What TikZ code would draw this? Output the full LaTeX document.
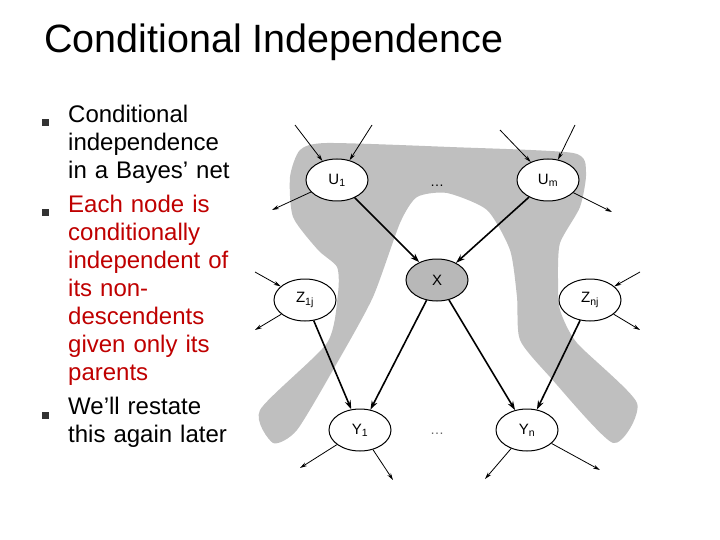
\documentclass[tikz,border=0pt]{standalone}
\usepackage{fontspec}
\setmainfont{Liberation Sans}
\usetikzlibrary{shapes.geometric,arrows.meta}
\begin{document}
\begin{tikzpicture}[x=1pt,y=-1pt,
  rv/.style={ellipse,draw,line width=1pt,fill=white,minimum width=62pt,minimum height=42pt,inner sep=0pt,font=\fontsize{15}{16}\selectfont},
  edge/.style={-{Stealth[length=9pt,width=6pt]},line width=1.6pt},
  thin/.style={-{Stealth[length=7pt,width=4pt]},line width=0.8pt},
  txt/.style={anchor=north west,align=left,inner sep=0pt,font=\fontsize{24}{28}\selectfont,text width=185pt},
  bul/.style={fill=black!80,minimum size=7pt,inner sep=0pt}]
\useasboundingbox (0,0) rectangle (720,540);
\node[anchor=west,inner sep=0pt,font=\fontsize{39.5}{42}\selectfont] (title) at (44,42) {Conditional Independence};
\node[txt] (t1) at (68,105) {Conditional\\independence\\in a Bayes' net};
\node[txt,text=red!75!black] (t2) at (68,195) {Each node is\\conditionally\\independent of\\its non-\\descendents\\given only its\\parents};
\node[txt] (t3) at (68,397) {We'll restate\\this again later};
\node[bul] (b1) at (45,123) {};
\node[bul] (b2) at (45,213) {};
\node[bul] (b3) at (45,415) {};
\fill[black!25] plot[smooth cycle,tension=0.4] coordinates {
 (327,143) (450,147) (573,153) (586,172) (580,207) (560,243) (558,280) (560,310) (577,343) (637,403) (613,443)
 (550,377) (520,340) (517,297) (510,250) (487,210) (447,193) (417,197)
 (400,223) (373,297) (337,363) (297,430) (273,443)
 (260,410) (327,343) (338,293) (337,267) (318,250) (293,217) (290,177) (300,150)};
\node[rv] (u1) at (337,180) {U\textsubscript{1}};
\node[rv] (um) at (548,180) {U\textsubscript{m}};
\node[rv,fill=black!28] (x) at (437,280) {X};
\node[rv] (z1) at (305,300) {Z\textsubscript{1j}};
\node[rv] (zn) at (590,300) {Z\textsubscript{nj}};
\node[rv] (y1) at (360,430) {Y\textsubscript{1}};
\node[rv] (yn) at (527,430) {Y\textsubscript{n}};
\node[font=\fontsize{14}{14}\selectfont] (d1) at (437,186) {\dots};
\node[font=\fontsize{14}{14}\selectfont,text=black!60] (d2) at (437,434) {\dots};
\draw[edge] (u1) -- (x);
\draw[edge] (um) -- (x);
\draw[edge] (x) -- (y1);
\draw[edge] (x) -- (yn);
\draw[edge] (z1) -- (y1);
\draw[edge] (zn) -- (yn);
\coordinate (a1) at (295,125); \coordinate (a2) at (372,125);
\coordinate (a3) at (500,130); \coordinate (a4) at (575,125);
\coordinate (o1) at (272,210); \coordinate (o2) at (612,212);
\coordinate (a5) at (255,272); \coordinate (o3) at (255,330);
\coordinate (a6) at (640,272); \coordinate (o4) at (640,330);
\coordinate (o5) at (300,468); \coordinate (o6) at (393,480);
\coordinate (o7) at (485,479); \coordinate (o8) at (600,470);
\draw[thin] (a1) -- (u1); \draw[thin] (a2) -- (u1);
\draw[thin] (a3) -- (um); \draw[thin] (a4) -- (um);
\draw[thin] (u1) -- (o1); \draw[thin] (um) -- (o2);
\draw[thin] (a5) -- (z1); \draw[thin] (z1) -- (o3);
\draw[thin] (a6) -- (zn); \draw[thin] (zn) -- (o4);
\draw[thin] (y1) -- (o5); \draw[thin] (y1) -- (o6);
\draw[thin] (yn) -- (o7); \draw[thin] (yn) -- (o8);
\end{tikzpicture}
\end{document}
